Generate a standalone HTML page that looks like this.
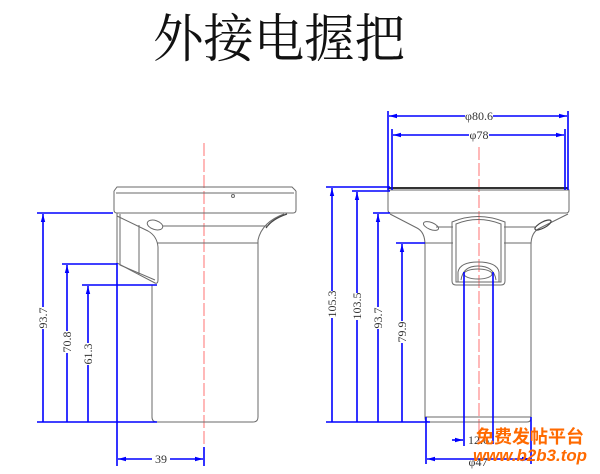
<!DOCTYPE html>
<html><head><meta charset="utf-8"><style>
html,body{margin:0;padding:0;background:#fff;}
svg{display:block;}
.g{fill:none;stroke:#6a6a6a;stroke-width:1;}
.gd{fill:none;stroke:#444;stroke-width:1.2;}
.b{fill:none;stroke:#0000ff;stroke-width:1.6;}
.c{fill:none;stroke:#ff8a8a;stroke-width:1.2;stroke-dasharray:13 3;}
.t{font-family:"Liberation Serif","Noto Serif CJK SC",serif;font-size:12px;fill:#333;}
</style></head><body>
<svg width="600" height="474" viewBox="0 0 600 474" xmlns="http://www.w3.org/2000/svg">
<defs>
<marker id="a" markerWidth="8" markerHeight="6" refX="8" refY="3" orient="auto" markerUnits="userSpaceOnUse"><path d="M0,0.8 L8,3 L0,5.2 Z" fill="#0000ff"/></marker>
<marker id="s" markerWidth="8" markerHeight="6" refX="0" refY="3" orient="auto" markerUnits="userSpaceOnUse"><path d="M8,0.8 L0,3 L8,5.2 Z" fill="#0000ff"/></marker>
</defs>

<!-- Title -->
<text x="153" y="57" font-family="'Noto Serif CJK SC','WenQuanYi Zen Hei',serif" font-size="52" fill="#111" textLength="252" lengthAdjust="spacingAndGlyphs">外接电握把</text>

<!-- ===== LEFT VIEW ===== -->
<line class="c" x1="204" y1="143" x2="204" y2="447"/>
<path class="g" d="M114,191 L117,187 L292,187 L296,191"/>
<line class="g" x1="116" y1="193" x2="294" y2="193"/>
<path class="g" d="M114,191 L114,210 Q114,213 117,213 L293,213 Q296,213 296,210 L296,191"/>
<path class="g" d="M284,214 Q262,222 258,240 L258,417 Q258,422 253,422 L157,422 Q152,422 152,417 L152,285"/>
<path class="gd" d="M287,214 Q272,219 266,228" stroke-width="1.8"/>
<line class="g" x1="163" y1="226" x2="268" y2="226"/>
<line class="g" x1="157" y1="243" x2="258" y2="243"/>
<!-- handle -->
<path class="g" d="M117,213 L117,263 L155,283 Q158,284 158,280 L158,247 Q157,236 148,231 L117,216"/>
<path class="g" d="M120,214 L120,265 L155,280"/>
<line class="g" x1="139" y1="225" x2="139" y2="274"/>
<ellipse class="g" cx="155" cy="225" rx="8" ry="4.5" transform="rotate(18 155 225)"/>
<circle class="g" cx="233" cy="196" r="1.5"/>

<!-- left dims -->
<line class="b" x1="37" y1="213" x2="113" y2="213"/>
<line class="b" x1="62" y1="264" x2="117" y2="264"/>
<line class="b" x1="82" y1="285" x2="157" y2="285"/>
<line class="b" x1="37" y1="422" x2="157" y2="422"/>
<line class="b" x1="43" y1="422" x2="43" y2="214" marker-end="url(#a)"/>
<line class="b" x1="67" y1="422" x2="67" y2="265" marker-end="url(#a)"/>
<line class="b" x1="88" y1="422" x2="88" y2="286" marker-end="url(#a)"/>
<line class="b" x1="117" y1="263" x2="117" y2="466"/>
<line class="b" x1="204" y1="447" x2="204" y2="466"/>
<line class="b" x1="118" y1="459" x2="203" y2="459" marker-start="url(#s)" marker-end="url(#a)"/>
<rect x="37" y="307" width="12" height="22" fill="#fff"/>
<text class="t" transform="translate(47,318) rotate(-90)" text-anchor="middle">93.7</text>
<rect x="61" y="331" width="12" height="22" fill="#fff"/>
<text class="t" transform="translate(71,342) rotate(-90)" text-anchor="middle">70.8</text>
<rect x="82" y="343" width="12" height="22" fill="#fff"/>
<text class="t" transform="translate(92,354) rotate(-90)" text-anchor="middle">61.3</text>
<rect x="152" y="453" width="18" height="12" fill="#fff"/>
<text class="t" x="161" y="463" text-anchor="middle">39</text>

<!-- ===== RIGHT VIEW ===== -->
<line class="c" x1="479" y1="147" x2="479" y2="442"/>
<line x1="388" y1="188" x2="568" y2="188" stroke="#333" stroke-width="2"/>
<path class="g" d="M388,190 L388,210 Q388,213 391,213 L566,213 Q569,213 569,210 L569,190 Z"/>
<path class="g" d="M390,214 L417,228 Q425,232 425,245 L425,418 Q425,422 429,422 L527,422 Q531,422 531,418 L531,245 Q531,232 540,228 L568,214"/>
<line class="g" x1="425" y1="417" x2="531" y2="417"/>
<line class="g" x1="436" y1="227" x2="453" y2="227"/>
<line class="g" x1="504" y1="227" x2="535" y2="227"/>
<line class="g" x1="425" y1="243" x2="453" y2="243"/>
<line class="g" x1="504" y1="243" x2="531" y2="243"/>
<!-- cup -->
<path class="g" d="M452,222 Q478,211 505,222 L505,281 Q505,285 501,285 L456,285 Q452,285 452,281 Z"/>
<path class="g" d="M456,224 Q478,215 501,224 L501,282 L456,282 Z"/>
<path class="g" d="M458,282 L458,272 Q460,262 478,262 Q497,262 499,272 L499,282"/>
<path class="g" d="M461,280 Q463,266 478,266 Q494,266 496,280"/>
<ellipse class="g" cx="478" cy="274" rx="14" ry="5"/>
<ellipse class="g" cx="431" cy="226" rx="8" ry="3.5" transform="rotate(22 431 226)"/>
<ellipse class="gd" cx="543" cy="225" rx="9" ry="3" transform="rotate(-28 543 225)"/>

<!-- right dims -->
<line class="b" x1="388" y1="111" x2="388" y2="190" stroke-width="2"/>
<line class="b" x1="568" y1="111" x2="568" y2="190" stroke-width="2"/>
<line class="b" x1="392" y1="129" x2="392" y2="190" stroke-width="2"/>
<line class="b" x1="565" y1="129" x2="565" y2="190" stroke-width="2"/>
<line class="b" x1="389" y1="116" x2="567" y2="116" marker-start="url(#s)" marker-end="url(#a)"/>
<line class="b" x1="393" y1="135" x2="564" y2="135" marker-start="url(#s)" marker-end="url(#a)"/>
<rect x="465" y="109" width="28" height="13" fill="#fff"/>
<text class="t" x="479" y="120" text-anchor="middle">φ80.6</text>
<rect x="469" y="128" width="20" height="13" fill="#fff"/>
<text class="t" x="479" y="139" text-anchor="middle">φ78</text>

<line class="b" x1="326" y1="187" x2="390" y2="187"/>
<line class="b" x1="352" y1="191" x2="390" y2="191"/>
<line class="b" x1="373" y1="213" x2="390" y2="213"/>
<line class="b" x1="396" y1="243" x2="425" y2="243"/>
<line class="b" x1="326" y1="422" x2="430" y2="422" stroke-width="2"/>
<line class="b" x1="332" y1="422" x2="332" y2="188" marker-end="url(#a)"/>
<line class="b" x1="357" y1="422" x2="357" y2="192" marker-end="url(#a)"/>
<line class="b" x1="378" y1="422" x2="378" y2="214" marker-end="url(#a)"/>
<line class="b" x1="402" y1="422" x2="402" y2="244" marker-end="url(#a)"/>
<rect x="326" y="291" width="12" height="27" fill="#fff"/>
<text class="t" transform="translate(336,304) rotate(-90)" text-anchor="middle">105.3</text>
<rect x="351" y="293" width="12" height="27" fill="#fff"/>
<text class="t" transform="translate(361,306) rotate(-90)" text-anchor="middle">103.5</text>
<rect x="372" y="307" width="12" height="22" fill="#fff"/>
<text class="t" transform="translate(382,318) rotate(-90)" text-anchor="middle">93.7</text>
<rect x="396" y="321" width="12" height="22" fill="#fff"/>
<text class="t" transform="translate(406,332) rotate(-90)" text-anchor="middle">79.9</text>

<line class="b" x1="464" y1="272" x2="464" y2="446"/>
<line class="b" x1="493" y1="272" x2="493" y2="444"/>
<line class="b" x1="452" y1="440" x2="463" y2="440" marker-end="url(#a)"/>
<text class="t" x="468" y="444">12.6</text>
<line class="b" x1="426" y1="417" x2="426" y2="464" stroke-width="2"/>
<line class="b" x1="531" y1="417" x2="531" y2="464" stroke-width="2"/>
<line class="b" x1="427" y1="459" x2="530" y2="459" marker-start="url(#s)" marker-end="url(#a)"/>
<text class="t" x="478" y="466" text-anchor="middle">φ47</text>

<!-- watermark -->
<text x="476" y="443" font-family="'Noto Sans CJK SC','WenQuanYi Zen Hei',sans-serif" font-size="18" font-weight="bold" fill="#ff6a00" textLength="108" lengthAdjust="spacingAndGlyphs">免费发帖平台</text>
<text x="473" y="461" font-family="'Liberation Sans',sans-serif" font-size="17" font-weight="bold" font-style="italic" fill="#ff6a00" textLength="114" lengthAdjust="spacingAndGlyphs">www.b2b3.top</text>
</svg>
</body></html>
